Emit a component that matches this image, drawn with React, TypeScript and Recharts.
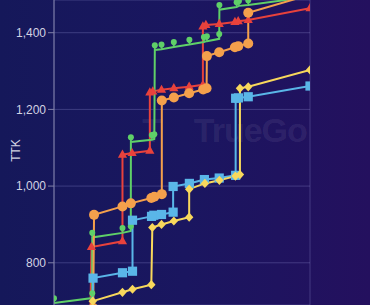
import React from "react";
import { LineChart, Line, XAxis, YAxis, CartesianGrid, Label } from "recharts";

type P = { t: number; v: number };

const greenData: P[] = [
  { t: 0, v: 695 }, { t: 0.923, v: 708 }, { t: 0.923, v: 866 }, { t: 1.652, v: 878 },
  { t: 1.853, v: 883 }, { t: 1.855, v: 1115 }, { t: 2.36, v: 1121 }, { t: 2.42, v: 1123 },
  { t: 2.432, v: 1355 }, { t: 2.594, v: 1357 }, { t: 2.891, v: 1363 }, { t: 3.266, v: 1369 },
  { t: 3.616, v: 1376 }, { t: 3.688, v: 1378 }, { t: 3.986, v: 1384 }, { t: 3.99, v: 1460 },
  { t: 4.406, v: 1467 }, { t: 4.461, v: 1470 }, { t: 4.686, v: 1472 }, { t: 6.176, v: 1494 },
];

const redData: P[] = [
  { t: 0, v: 656 }, { t: 0.88, v: 679 }, { t: 0.903, v: 841 }, { t: 1.652, v: 856 },
  { t: 1.652, v: 1082 }, { t: 1.884, v: 1086 }, { t: 2.312, v: 1092 }, { t: 2.312, v: 1244 },
  { t: 2.384, v: 1247 }, { t: 2.594, v: 1251 }, { t: 2.891, v: 1255 }, { t: 3.261, v: 1259 },
  { t: 3.592, v: 1264 }, { t: 3.592, v: 1416 }, { t: 3.664, v: 1420 }, { t: 3.986, v: 1423 },
  { t: 4.365, v: 1428 }, { t: 4.444, v: 1430 }, { t: 4.686, v: 1433 }, { t: 6.176, v: 1464 },
];

const orangeData: P[] = [
  { t: 0, v: 672 }, { t: 0.947, v: 682 }, { t: 0.966, v: 925 }, { t: 1.652, v: 947 },
  { t: 1.853, v: 955 }, { t: 2.348, v: 969 }, { t: 2.42, v: 972 }, { t: 2.601, v: 979 },
  { t: 2.601, v: 1223 }, { t: 2.891, v: 1231 }, { t: 3.261, v: 1242 }, { t: 3.599, v: 1252 },
  { t: 3.681, v: 1255 }, { t: 3.688, v: 1339 }, { t: 3.986, v: 1349 }, { t: 4.365, v: 1362 },
  { t: 4.444, v: 1365 }, { t: 4.686, v: 1372 }, { t: 4.686, v: 1452 }, { t: 6.176, v: 1499 },
];

const blueData: P[] = [
  { t: 0, v: 640 }, { t: 0.928, v: 660 }, { t: 0.942, v: 760 }, { t: 1.652, v: 774 },
  { t: 1.894, v: 778 }, { t: 1.894, v: 911 }, { t: 2.353, v: 921 }, { t: 2.408, v: 924 },
  { t: 2.594, v: 926 }, { t: 2.874, v: 932 }, { t: 2.874, v: 999 }, { t: 3.266, v: 1007 },
  { t: 3.628, v: 1017 }, { t: 3.986, v: 1021 }, { t: 4.382, v: 1028 }, { t: 4.382, v: 1229 },
  { t: 4.449, v: 1230 }, { t: 4.686, v: 1233 }, { t: 6.176, v: 1261 },
];

const yellowData: P[] = [
  { t: 0, v: 620 }, { t: 0.928, v: 640 }, { t: 0.935, v: 700 }, { t: 1.652, v: 723 },
  { t: 1.894, v: 731 }, { t: 2.348, v: 743 }, { t: 2.372, v: 892 }, { t: 2.594, v: 900 },
  { t: 2.891, v: 909 }, { t: 3.261, v: 919 }, { t: 3.261, v: 992 }, { t: 3.64, v: 1007 },
  { t: 3.99, v: 1015 }, { t: 4.377, v: 1026 }, { t: 4.486, v: 1030 }, { t: 4.486, v: 1255 },
  { t: 4.686, v: 1259 }, { t: 6.176, v: 1303 },
];

const yTicks = [800, 1000, 1200, 1400];
const xTicks = [1, 2, 3, 4, 5, 6, 6.176];
const xDomain: [number, number] = [0, 6.176];
const yDomain: [number, number] = [689.9, 1485.3];

const GREEN = "#5fd068";
const RED = "#e8423c";
const ORANGE = "#f4a04c";
const BLUE = "#5ab6e8";
const YELLOW = "#f8d85c";

const ok = (p: any) => p && p.cx != null && p.cy != null && !isNaN(p.cx) && !isNaN(p.cy);

const PinDot = (p: any) => {
  if (!ok(p)) return <g key={`pn${p.index}`} />;
  const { cx, cy } = p;
  return (
    <g key={`pn${p.index}`}>
      <path d={`M${cx - 2.2},${cy - 3.4} L${cx + 2.2},${cy - 3.4} L${cx},${cy} Z`} fill={GREEN} />
      <circle cx={cx} cy={cy - 4.8} r={3} fill={GREEN} />
    </g>
  );
};

const TriDot = (p: any) => {
  if (!ok(p)) return <g key={`tr${p.index}`} />;
  const { cx, cy } = p;
  return (
    <path
      key={`tr${p.index}`}
      d={`M${cx},${cy - 5.2} L${cx + 4.6},${cy + 3} L${cx - 4.6},${cy + 3} Z`}
      fill={RED}
    />
  );
};

const CircDot = (p: any) => {
  if (!ok(p)) return <g key={`ci${p.index}`} />;
  return <circle key={`ci${p.index}`} cx={p.cx} cy={p.cy} r={5} fill={ORANGE} />;
};

const SqDot = (p: any) => {
  if (!ok(p)) return <g key={`sq${p.index}`} />;
  return <rect key={`sq${p.index}`} x={p.cx - 4.6} y={p.cy - 4.6} width={9.2} height={9.2} fill={BLUE} />;
};

const DiaDot = (p: any) => {
  if (!ok(p)) return <g key={`di${p.index}`} />;
  const { cx, cy } = p;
  return (
    <path
      key={`di${p.index}`}
      d={`M${cx},${cy - 4.6} L${cx + 4.2},${cy} L${cx},${cy + 4.6} L${cx - 4.2},${cy} Z`}
      fill={YELLOW}
    />
  );
};

const fmt = (v: number) => v.toLocaleString("en-US");

export default function App() {
  return (
    <div
      style={{
        position: "absolute",
        left: 0,
        top: 0,
        width: 370,
        height: 305,
        overflow: "hidden",
        background: "linear-gradient(90deg, #15185a 0%, #1a1660 50%, #24105e 100%)",
        fontFamily: "'Liberation Sans', Arial, sans-serif",
      }}
    >
      <div
        style={{
          position: "absolute",
          left: 142,
          top: 110,
          color: "rgba(255,255,255,0.08)",
          fontWeight: 700,
          fontSize: 34,
          letterSpacing: -1,
          whiteSpace: "nowrap",
          lineHeight: "40px",
        }}
      >
        <span style={{ marginRight: 32 }}>T</span>
        <span>TrueGo</span>
      </div>
      <div style={{ position: "absolute", left: 0, top: 0 }}>
        <LineChart width={370} height={305} margin={{ top: 0, right: 60, bottom: 0, left: 0 }}>
          <CartesianGrid stroke="rgba(170,170,235,0.26)" strokeWidth={1} />
          <XAxis
            type="number"
            dataKey="t"
            domain={xDomain}
            ticks={xTicks}
            allowDataOverflow
            height={0}
            tick={false}
            axisLine={false}
            tickLine={false}
          />
          <YAxis
            type="number"
            dataKey="v"
            domain={yDomain}
            ticks={yTicks}
            allowDataOverflow
            width={54}
            tickFormatter={fmt}
            tick={{ fill: "#d2d2e2", fontSize: 12 }}
            axisLine={{ stroke: "#8080a8" }}
            tickLine={{ stroke: "#8080a8" }}
            tickSize={6}
          >
            <Label
              content={(props: any) => {
                const vb = props.viewBox || { x: 0, y: 0, height: 305 };
                const x = vb.x + 20;
                const y = vb.y + vb.height / 2 - 2;
                return (
                  <text
                    x={x}
                    y={y}
                    transform={`rotate(-90 ${x} ${y})`}
                    textAnchor="middle"
                    fill="#d2d2e2"
                    fontSize={12}
                  >
                    TTK
                  </text>
                );
              }}
            />
          </YAxis>
          <Line data={redData} dataKey="v" stroke={RED} strokeWidth={2} dot={TriDot} isAnimationActive={false} />
          <Line data={greenData} dataKey="v" stroke={GREEN} strokeWidth={2} dot={PinDot} isAnimationActive={false} />
          <Line data={orangeData} dataKey="v" stroke={ORANGE} strokeWidth={2} dot={CircDot} isAnimationActive={false} />
          <Line data={blueData} dataKey="v" stroke={BLUE} strokeWidth={2} dot={SqDot} isAnimationActive={false} />
          <Line data={yellowData} dataKey="v" stroke={YELLOW} strokeWidth={2} dot={DiaDot} isAnimationActive={false} />
        </LineChart>
      </div>
    </div>
  );
}
